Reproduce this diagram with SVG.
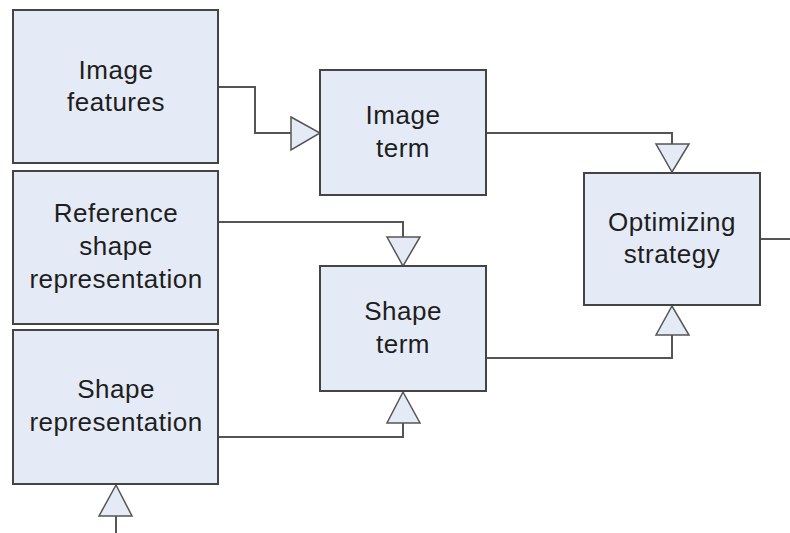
<svg xmlns="http://www.w3.org/2000/svg" width="790" height="533" viewBox="0 0 790 533">
<style>
.box{fill:#e5ebf6;stroke:#444;stroke-width:2}
.ln{fill:none;stroke:#555;stroke-width:2}
.tri{fill:#e5ebf6;stroke:#555;stroke-width:1.5;stroke-linejoin:miter}
text{font-family:"Liberation Sans",Arial,sans-serif;font-size:26px;letter-spacing:0.5px;fill:#1e1e1e;text-anchor:middle}
</style>
<rect width="790" height="533" fill="#fff"/>
<g id="connectors">
<polyline class="ln" points="218,87 255,87 255,133 291,133"/>
<polygon class="tri" points="291,117 320,133 291,150"/>
<polyline class="ln" points="487,133 672,133 672,144"/>
<polygon class="tri" points="656,144 689,144 672,172"/>
<polyline class="ln" points="218,222 403,222 403,237"/>
<polygon class="tri" points="387,237 420,237 403,266"/>
<polyline class="ln" points="487,358 672,358 672,335"/>
<polygon class="tri" points="656,335 689,335 672,306"/>
<polyline class="ln" points="218,437 403,437 403,423"/>
<polygon class="tri" points="387,423 420,423 403,392"/>
<polyline class="ln" points="116,516 116,533"/>
<polygon class="tri" points="99,516 132,516 116,485"/>
<polyline class="ln" points="760,239 790,239"/>
</g>
<g id="image-features">
<rect class="box" x="13" y="10" width="205" height="153"/>
<text x="116" y="79">Image</text>
<text x="116" y="111">features</text>
</g>
<g id="reference-shape">
<rect class="box" x="13" y="171" width="205" height="153"/>
<text x="116" y="222">Reference</text>
<text x="116" y="255">shape</text>
<text x="116" y="288">representation</text>
</g>
<g id="shape-representation">
<rect class="box" x="13" y="330" width="205" height="154"/>
<text x="116" y="398">Shape</text>
<text x="116" y="431">representation</text>
</g>
<g id="image-term">
<rect class="box" x="320" y="70" width="166" height="125"/>
<text x="403" y="124">Image</text>
<text x="403" y="157">term</text>
</g>
<g id="shape-term">
<rect class="box" x="320" y="266" width="166" height="125"/>
<text x="403" y="320">Shape</text>
<text x="403" y="353">term</text>
</g>
<g id="optimizing-strategy">
<rect class="box" x="584" y="173" width="176" height="132"/>
<text x="672" y="231">Optimizing</text>
<text x="672" y="263">strategy</text>
</g>
</svg>
